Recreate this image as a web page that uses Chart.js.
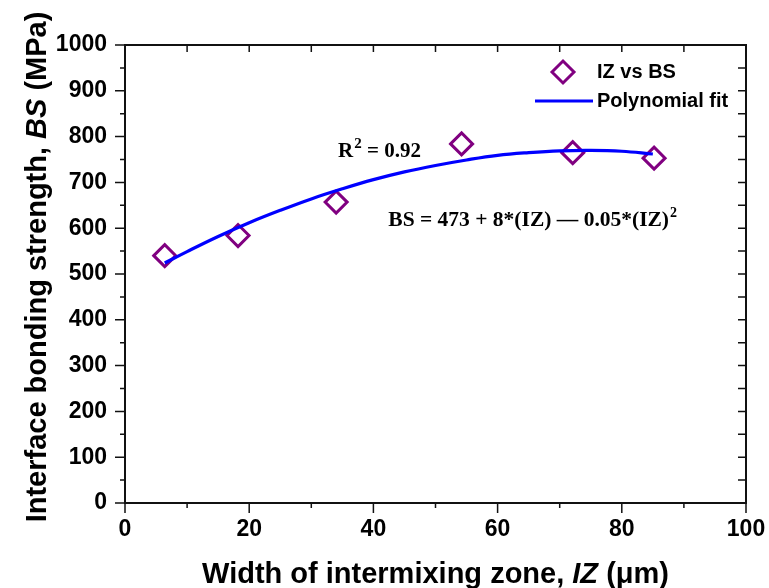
<!DOCTYPE html>
<html>
<head>
<meta charset="utf-8">
<script src="https://cdn.jsdelivr.net/npm/chart.js@4.4.0/dist/chart.umd.min.js"></script>
<style>
  html, body { margin: 0; padding: 0; background: #fff; }
  #wrap { width: 769px; height: 588px; }
</style>
</head>
<body>
<div id="wrap"><canvas id="chart" width="769" height="588"></canvas></div>
<script>
// DATA
// measured points: width of intermixing zone (µm) vs bonding strength (MPa)
const izValues = [6.4, 18.2, 34, 54.2, 72.1, 85.2];
const bsValues = [540, 584, 657, 784, 765, 753];

// polynomial fit curve
const fitX = [6.4, 10, 15, 20, 25, 30, 35, 40, 45, 50, 55, 60, 65, 70, 75, 80, 85];
const fitY = [524, 549, 582, 612, 639, 664, 686, 706, 723, 737, 749, 759, 765, 769, 770, 768, 762];

// axes
const xRange = [0, 100];
const yRange = [0, 1000];
const xStep = 20;
const yStep = 100;

const seriesNames = ["IZ vs BS", "Polynomial fit"];
const r2Text = "0.92";
const equationText = "BS = 473 + 8*(IZ) \u2014 0.05*(IZ)";

const PURPLE = "#800080";
const BLUE = "#0000ff";
const INK = "#111111";

// helpers
const toPoints = (xs, ys) => xs.map((v, i) => ({ x: v, y: ys[i] }));

// draw text made of plain / italic parts, centred on cx
function drawMixed(ctx, parts, cx, baseline, size) {
  const fontFor = (p) => `${p.italic ? "italic " : ""}bold ${size}px "Liberation Sans", Arial, sans-serif`;
  let total = 0;
  parts.forEach(p => { ctx.font = fontFor(p); total += ctx.measureText(p.text).width; });
  let x = cx - total / 2;
  parts.forEach(p => {
    ctx.font = fontFor(p);
    ctx.fillText(p.text, x, baseline);
    x += ctx.measureText(p.text).width;
  });
}

// FRAME + TICK MARKS
const frameTicks = {
  id: "frameTicks",
  beforeDatasetsDraw(chart) {
    const { ctx, chartArea: a, scales: { x, y } } = chart;
    ctx.save();
    ctx.strokeStyle = INK;
    ctx.lineWidth = 1.5;
    ctx.beginPath();
    for (let v = xRange[0]; v <= xRange[1]; v += xStep / 2) {
      const px = x.getPixelForValue(v);
      const len = v % xStep === 0 ? 10 : 5;
      ctx.moveTo(px, a.bottom);
      ctx.lineTo(px, a.bottom + len);
      if (v > xRange[0] && v < xRange[1]) {
        ctx.moveTo(px, a.top);
        ctx.lineTo(px, a.top + 7);
      }
    }
    for (let v = yRange[0]; v <= yRange[1]; v += yStep / 2) {
      const py = y.getPixelForValue(v);
      const len = v % yStep === 0 ? 10 : 5;
      ctx.moveTo(a.left, py);
      ctx.lineTo(a.left - len, py);
      if (v > yRange[0] && v < yRange[1]) {
        ctx.moveTo(a.right, py);
        ctx.lineTo(a.right - 8, py);
      }
    }
    ctx.stroke();
    ctx.lineWidth = 2;
    ctx.strokeRect(a.left, a.top, a.right - a.left, a.bottom - a.top);
    ctx.restore();
  }
};

// AXIS TITLES (with italic symbols)
const axisTitles = {
  id: "axisTitles",
  afterDraw(chart) {
    const { ctx, chartArea: a } = chart;
    ctx.save();
    ctx.fillStyle = "#000";
    ctx.textBaseline = "alphabetic";
    drawMixed(ctx, [
      { text: "Width of intermixing zone, " },
      { text: "IZ", italic: true },
      { text: " (\u03bcm)" }
    ], (a.left + a.right) / 2, a.bottom + 80, 29);

    ctx.translate(46, (a.top + a.bottom) / 2 - 7);
    ctx.rotate(-Math.PI / 2);
    drawMixed(ctx, [
      { text: "Interface bonding strength, " },
      { text: "BS", italic: true },
      { text: " (MPa)" }
    ], 0, 0, 29);
    ctx.restore();
  }
};

// LEGEND + ANNOTATIONS
const legendNotes = {
  id: "legendNotes",
  afterDraw(chart) {
    const { ctx, scales: { x, y } } = chart;
    const pts = chart.data.datasets[1];
    const fit = chart.data.datasets[0];
    ctx.save();

    // legend
    ctx.strokeStyle = pts.borderColor;
    ctx.fillStyle = "#ffffff";
    ctx.lineWidth = pts.borderWidth;
    Chart.helpers.drawPoint(ctx, { pointStyle: "rectRot", radius: pts.pointRadius, rotation: 0, borderWidth: pts.borderWidth }, 563, 72);
    ctx.strokeStyle = fit.borderColor;
    ctx.lineWidth = fit.borderWidth;
    ctx.beginPath();
    ctx.moveTo(535, 101);
    ctx.lineTo(593, 101);
    ctx.stroke();

    ctx.fillStyle = "#000";
    ctx.textBaseline = "middle";
    ctx.font = 'bold 20px "Liberation Sans", Arial, sans-serif';
    ctx.fillText(seriesNames[0], 597, 72);
    ctx.fillText(seriesNames[1], 597, 101);

    // R^2 note
    ctx.textBaseline = "alphabetic";
    const serif = (s) => `bold ${s}px "Liberation Serif", "Times New Roman", serif`;
    let tx = x.getPixelForValue(34.3);
    const rb = y.getPixelForValue(755);
    ctx.font = serif(21);
    ctx.fillText("R", tx, rb);
    tx += ctx.measureText("R").width + 1;
    ctx.font = serif(15);
    ctx.fillText("2", tx, rb - 9);
    tx += ctx.measureText("2").width;
    ctx.font = serif(21);
    ctx.fillText(" = " + r2Text, tx, rb);

    // fit equation
    let ex = x.getPixelForValue(42.4);
    const eb = y.getPixelForValue(605);
    ctx.font = serif(21.5);
    ctx.fillText(equationText, ex, eb);
    ex += ctx.measureText(equationText).width + 1;
    ctx.font = serif(14);
    ctx.fillText("2", ex, eb - 9);

    ctx.restore();
  }
};

const tickFont = { family: '"Liberation Sans", Arial, sans-serif', size: 23, weight: "bold" };

new Chart(document.getElementById("chart"), {
  type: "scatter",
  data: {
    datasets: [
      {
        label: seriesNames[1],
        data: toPoints(fitX, fitY),
        showLine: true,
        borderColor: BLUE,
        borderWidth: 3.2,
        pointRadius: 0,
        tension: 0.4,
        fill: false,
        order: 0
      },
      {
        label: seriesNames[0],
        data: toPoints(izValues, bsValues),
        pointStyle: "rectRot",
        pointRadius: 11,
        borderColor: PURPLE,
        backgroundColor: "rgba(0,0,0,0)",
        borderWidth: 3,
        order: 1
      }
    ]
  },
  options: {
    responsive: false,
    animation: false,
    layout: { padding: { top: 45, right: 23, left: 0, bottom: 0 } },
    plugins: {
      legend: { display: false },
      tooltip: { enabled: false }
    },
    scales: {
      x: {
        type: "linear",
        min: xRange[0],
        max: xRange[1],
        grid: { display: false, drawTicks: false },
        border: { display: false },
        ticks: { stepSize: xStep, color: "#000", font: tickFont, padding: 13, maxRotation: 0,
                 callback: (v) => String(v) },
        afterFit: (s) => { s.height = 85; s.paddingLeft = 0; s.paddingRight = 0; }
      },
      y: {
        type: "linear",
        min: yRange[0],
        max: yRange[1],
        grid: { display: false, drawTicks: false },
        border: { display: false },
        ticks: { stepSize: yStep, color: "#000", font: tickFont, padding: 18,
                 callback: (v) => String(v) },
        afterFit: (s) => { s.width = 125; s.paddingTop = 0; s.paddingBottom = 0; }
      }
    }
  },
  plugins: [frameTicks, axisTitles, legendNotes]
});
</script>
</body>
</html>
